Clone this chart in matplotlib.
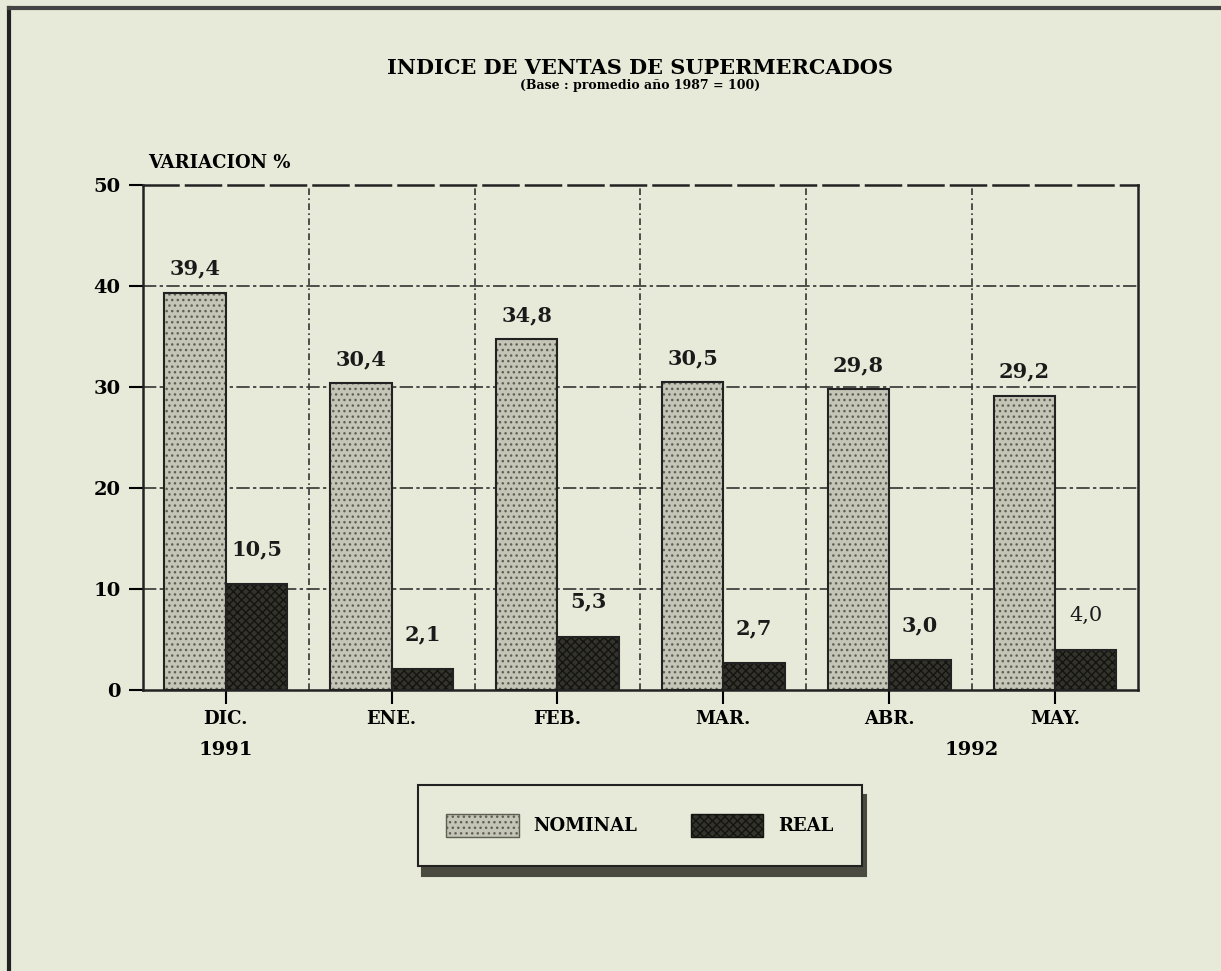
import matplotlib.pyplot as plt
import numpy as np
from matplotlib.patches import Patch

months = ["DIC.", "ENE.", "FEB.", "MAR.", "ABR.", "MAY."]
nominal = [39.4, 30.4, 34.8, 30.5, 29.8, 29.2]
real = [10.5, 2.1, 5.3, 2.7, 3.0, 4.0]
y_ticks = [0, 10, 20, 30, 40, 50]

bg = "#e7ead8"
nom_color = "#c4c5b6"
real_color = "#33332c"
font = "DejaVu Serif"

fig = plt.figure(figsize=(12.21, 9.71), dpi=100, facecolor=bg)
ax = fig.add_axes([0.117, 0.289, 0.815, 0.520])
ax.set_facecolor(bg)

x = np.arange(len(months))
w = 0.37

# fill with hatch first, outline on top
ax.bar(x - w / 2, nominal, w, color=nom_color, hatch="...", edgecolor="#5e5e52", linewidth=0, zorder=2)
ax.bar(x + w / 2, real, w, color=real_color, hatch="xxxx", edgecolor="#141410", linewidth=0, zorder=2)
ax.bar(x - w / 2, nominal, w, fill=False, edgecolor="#222", linewidth=1.5, zorder=3)
ax.bar(x + w / 2, real, w, fill=False, edgecolor="#222", linewidth=1.5, zorder=3)

for i in range(len(months)):
    ax.annotate(f"{nominal[i]:.1f}".replace(".", ","), (x[i] - w / 2, nominal[i]),
                xytext=(0, 10), textcoords="offset points", ha="center", va="bottom",
                fontsize=15, fontweight="bold", family=font, color="#1a1a1a")
    ax.annotate(f"{real[i]:.1f}".replace(".", ","), (x[i] + w / 2, real[i]),
                xytext=(0, 18), textcoords="offset points", ha="center", va="bottom",
                fontsize=15, fontweight="bold" if i < 5 else "normal", family=font, color="#1a1a1a")

ax.set_xlim(-0.5, len(months) - 0.5)
ax.set_ylim(0, 50)
ax.set_yticks(y_ticks)
ax.set_yticklabels([str(v) for v in y_ticks], fontsize=14, fontweight="bold", family=font)
ax.set_xticks(x)
ax.set_xticklabels(months, fontsize=13, fontweight="bold", family=font)
ax.tick_params(axis="y", length=10, width=1.5, pad=6)
ax.tick_params(axis="x", length=10, width=1.5, pad=4)

for v in y_ticks[1:-1]:
    ax.axhline(v, color="#333", linestyle=(0, (8, 2, 2, 2)), linewidth=1.2, zorder=1)
for b in np.arange(0.5, len(months) - 0.5, 1.0):
    ax.axvline(b, color="#333", linestyle=(0, (4, 2, 1, 2)), linewidth=1.2, zorder=1)

for s in ax.spines.values():
    s.set_color("#222")
    s.set_linewidth(1.8)
ax.spines["top"].set_linestyle((0, (14, 3)))

ax.text(0, -5.9, "1991", ha="center", va="center", fontsize=14, fontweight="bold", family=font)
ax.text(4.5, -5.9, "1992", ha="center", va="center", fontsize=14, fontweight="bold", family=font)
ax.text(-0.47, 52.2, "VARIACION %", ha="left", va="center", fontsize=13, fontweight="bold", family=font)

fig.text(0.524, 0.930, "INDICE DE VENTAS DE SUPERMERCADOS", ha="center", va="center",
         fontsize=15, fontweight="bold", family=font)
fig.text(0.524, 0.912, "(Base : promedio año 1987 = 100)", ha="center", va="center",
         fontsize=9, fontweight="bold", family=font)

handles = [Patch(facecolor=nom_color, hatch="...", edgecolor="#5e5e52", label="NOMINAL"),
           Patch(facecolor=real_color, hatch="xxxx", edgecolor="#141410", label="REAL")]
leg = fig.legend(handles=handles, loc="center", bbox_to_anchor=(0.524, 0.150), ncol=2,
                 frameon=True, fancybox=False,
                 shadow={"color": "#4a4a40", "alpha": 1, "ox": 3, "oy": -7},
                 handlelength=4, handleheight=1.6, columnspacing=3, borderpad=1.6,
                 prop={"family": font, "size": 13, "weight": "bold"})
leg.get_frame().set_edgecolor("#222")
leg.get_frame().set_linewidth(1.5)
leg.get_frame().set_facecolor(bg)

# scanned page frame
fig.add_artist(plt.Line2D([0.007, 0.007], [0.0, 0.992], color="#222", linewidth=3))
fig.add_artist(plt.Line2D([0.007, 1.0], [0.992, 0.992], color="#444", linewidth=3))

fig.savefig("out.png", dpi=100, facecolor=bg)
